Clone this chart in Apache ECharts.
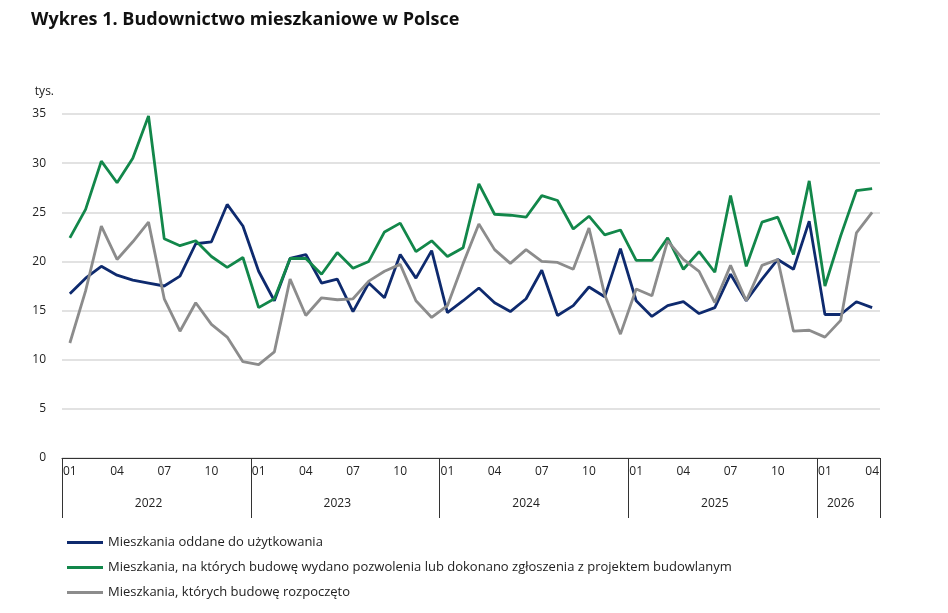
<!DOCTYPE html>
<html>
<head>
<meta charset="utf-8">
<script src="https://cdn.jsdelivr.net/npm/echarts@6/dist/echarts.min.js"></script>
<style>body{margin:0;background:#fff}#c{width:948px;height:613px}</style>
</head>
<body>
<div id="c"></div>
<script>
// months 2022-01 .. 2026-04
var months = [];
for (var y = 2022; y <= 2026; y++) {
    for (var m = 1; m <= 12; m++) {
        if (y === 2026 && m > 4) break;
        months.push(y + '-' + (m < 10 ? '0' + m : m));
    }
}
var yearLabels = {5: '2022', 17: '2023', 29: '2024', 41: '2025', 49: '2026'};

var oddane = [16.7, 18.3, 19.5, 18.6, 18.1, 17.8, 17.5, 18.5, 21.8, 22, 25.8, 23.6,
    19, 16, 20.3, 20.7, 17.8, 18.2, 14.9, 17.8, 16.3, 20.7, 18.3, 21.1,
    14.8, 16, 17.3, 15.8, 14.9, 16.2, 19.1, 14.5, 15.5, 17.4, 16.4, 21.3,
    16, 14.4, 15.5, 15.9, 14.7, 15.3, 18.7, 16, 18.2, 20.2, 19.2, 24.1,
    14.6, 14.6, 15.9, 15.3];
var pozwolenia = [22.4, 25.3, 30.2, 28, 30.5, 34.8, 22.3, 21.6, 22.1, 20.5, 19.4, 20.4,
    15.3, 16.2, 20.3, 20.3, 18.7, 20.9, 19.3, 20, 23, 23.9, 21, 22.1,
    20.5, 21.4, 27.9, 24.8, 24.7, 24.5, 26.7, 26.2, 23.3, 24.6, 22.7, 23.2,
    20.1, 20.1, 22.4, 19.2, 21, 18.9, 26.7, 19.5, 24, 24.5, 20.7, 28.2,
    17.5, 22.6, 27.2, 27.4];
var rozpoczete = [11.7, 17, 23.6, 20.2, 22, 24, 16.2, 12.9, 15.8, 13.6, 12.3, 9.8,
    9.5, 10.8, 18.2, 14.5, 16.3, 16.1, 16.2, 18, 19, 19.7, 16, 14.3,
    15.5, 19.8, 23.8, 21.2, 19.8, 21.2, 20, 19.9, 19.2, 23.4, 16.6, 12.6,
    17.2, 16.5, 22.1, 20.2, 19, 15.8, 19.6, 16, 19.6, 20.2, 12.9, 13,
    12.3, 14, 22.9, 25];

var names = ['Mieszkania oddane do użytkowania',
    'Mieszkania, na których budowę wydano pozwolenia lub dokonano zgłoszenia z projektem budowlanym',
    'Mieszkania, których budowę rozpoczęto'];

var chart = echarts.init(document.getElementById('c'));
var font = 'Open Sans';
function line(name, data, color) {
    return {name: name, type: 'line', data: data, symbol: 'none',
        lineStyle: {color: color, width: 2.8}, itemStyle: {color: color}};
}
chart.setOption({
    textStyle: {fontFamily: font, color: '#222'},
    title: {
        text: 'Wykres 1. Budownictwo mieszkaniowe w Polsce',
        left: 26, top: 6,
        textStyle: {fontSize: 18, fontWeight: 'bold', color: '#111', fontFamily: font}
    },
    legend: {
        orient: 'vertical', left: 62, top: 531, itemGap: 12,
        icon: 'rect', itemWidth: 36, itemHeight: 3,
        textStyle: {fontSize: 13, color: '#222'},
        data: names
    },
    grid: {left: 62, right: 68, top: 114, bottom: 155},
    xAxis: [{
        type: 'category', data: months, boundaryGap: true,
        axisLine: {show: true, lineStyle: {color: '#333'}},
        axisTick: {show: true, interval: 0, length: 6, lineStyle: {color: 'rgba(0,0,0,0)'}},
        axisLabel: {
            interval: function (i) { return i % 3 === 0; },
            formatter: function (v) { return v.slice(5); },
            fontSize: 12, color: '#222', margin: 8
        }
    }, {
        type: 'category', data: months, position: 'bottom', boundaryGap: true,
        axisLine: {show: false},
        axisTick: {show: true, interval: function (i) { return i % 12 === 0; },
            length: 60, lineStyle: {color: '#333'}},
        axisLabel: {
            interval: 0,
            formatter: function (v, i) { return yearLabels[i] || ''; },
            fontSize: 12, color: '#222', margin: 40
        }
    }],
    yAxis: {
        type: 'value', min: 0, max: 35, interval: 5,
        name: 'tys.', nameLocation: 'end', nameGap: 16,
        nameTextStyle: {align: 'right', padding: [0, 8, 0, 0], fontSize: 12, color: '#222'},
        axisLabel: {fontSize: 12, color: '#222', margin: 16},
        splitLine: {lineStyle: {color: '#d9d9d9', width: 1.5}}
    },
    series: [
        line(names[0], oddane, '#0e2a6e'),
        line(names[1], pozwolenia, '#12874a'),
        line(names[2], rozpoczete, '#8c8c8c')
    ]
});
</script>
</body>
</html>
